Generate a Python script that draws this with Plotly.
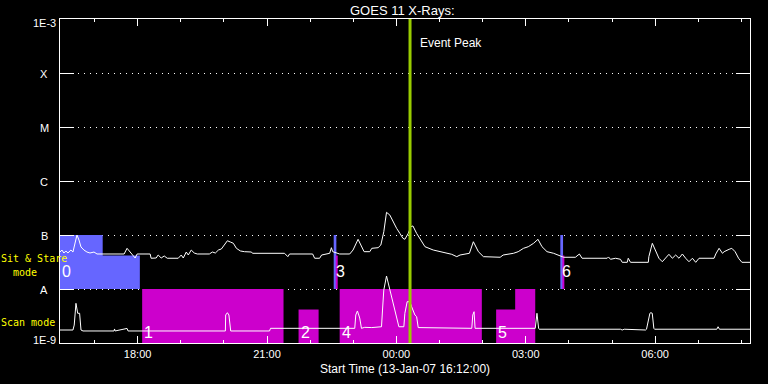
import numpy as np
import pandas as pd
import plotly.graph_objects as go

START = pd.Timestamp("2007-01-13 16:12:00")
SPAN_MIN = 960  # 16 hours

# ---- long-channel X-ray flux (W/m^2), minutes after start ----
long_t = [0, 2.7, 5.4, 8.2, 11.0, 15.2, 18.0, 20.8, 23.6, 26.4, 29.2, 33.3, 37.5, 41.7, 47.3, 51.5,
          89.2, 93.3, 97.5, 101.7, 104.5, 107.3, 125.4, 126.8, 133.8, 136.6, 140.8, 145.0, 149.2,
          164.5, 168.7, 171.5, 175.7, 178.5, 182.6, 186.8, 191.0, 207.8, 212.0, 216.2, 220.4, 224.5,
          228.7, 232.9, 237.1, 241.2, 245.4, 251.0, 256.6, 266.4, 267.8, 312.4, 317.0, 319.4, 351.5,
          354.3, 361.2, 364.0, 375.2, 377.6, 379.4, 389.1, 403.1, 407.7, 414.7, 419.1, 423.1, 431.0,
          433.8, 442.6, 446.4, 450.5, 454.3, 458.9, 463.5, 468.3, 472.9, 477.1, 479.8, 484.5, 488.2,
          491.0, 496.2, 500.8, 507.8, 519.3, 531.1, 545.0, 552.0, 556.6, 569.6, 575.1, 582.1, 589.1,
          612.4, 616.6, 630.9, 637.5, 644.9, 651.5, 658.9, 665.0, 670.6, 677.6, 686.8, 696.1, 700.7,
          717.1, 722.6, 726.4, 761.3, 763.1, 765.9, 772.9, 779.8, 782.2, 789.2, 790.6, 793.8, 818.5,
          819.3, 824.1, 828.7, 833.3, 838.0, 842.6, 847.2, 852.0, 856.6, 861.2, 865.9, 870.5, 875.1,
          879.9, 884.5, 889.1, 910.0, 912.4, 917.0, 921.7, 924.0, 930.9, 934.7, 939.3, 944.1, 948.7,
          960.0]
long_flux = [4.84e-8, 5.27e-8, 4.64e-8, 5.06e-8, 4.64e-8, 5.27e-8, 4.84e-8, 6.81e-8, 1.00e-7, 8.07e-8,
             6.00e-8, 5.27e-8, 4.84e-8, 4.64e-8, 4.84e-8, 4.45e-8,
             4.45e-8, 5.67e-8, 4.84e-8, 4.26e-8, 3.75e-8, 4.45e-8, 4.45e-8, 3.71e-8, 3.75e-8, 4.26e-8,
             3.75e-8, 4.09e-8, 3.71e-8,
             3.71e-8, 4.26e-8, 3.75e-8, 4.84e-8, 4.26e-8, 5.27e-8, 4.64e-8, 4.45e-8, 4.45e-8, 4.84e-8,
             4.64e-8, 5.27e-8, 5.51e-8,
             6.53e-8, 7.83e-8, 7.41e-8, 7.02e-8, 5.67e-8, 5.06e-8, 4.91e-8, 4.84e-8, 4.58e-8, 4.58e-8,
             3.97e-8, 4.45e-8, 4.45e-8,
             3.71e-8, 3.71e-8, 4.26e-8, 4.58e-8, 5.82e-8, 4.91e-8, 4.45e-8, 4.45e-8, 5.27e-8, 8.32e-8,
             6.53e-8, 4.91e-8, 4.91e-8,
             5.67e-8, 5.82e-8, 6.53e-8, 1.15e-7, 2.63e-7, 2.34e-7, 1.76e-7, 1.33e-7, 1.07e-7, 8.69e-8,
             8.32e-8, 1.07e-7, 1.43e-7,
             1.47e-7, 1.07e-7, 8.69e-8, 6.07e-8, 5.27e-8, 4.91e-8, 4.39e-8, 3.97e-8, 4.26e-8, 4.58e-8,
             7.51e-8, 4.91e-8, 3.97e-8,
             3.87e-8, 4.26e-8, 4.58e-8, 4.91e-8, 5.67e-8, 6.07e-8, 7.02e-8, 8.32e-8, 6.07e-8, 4.91e-8,
             4.58e-8, 4.09e-8, 3.87e-8,
             3.87e-8, 4.45e-8, 3.71e-8, 3.71e-8, 3.92e-8, 3.55e-8, 3.71e-8, 3.55e-8, 3.12e-8, 3.12e-8,
             3.71e-8, 3.12e-8, 3.12e-8,
             3.97e-8, 7.02e-8, 5.27e-8, 3.71e-8, 3.20e-8, 3.71e-8, 4.39e-8, 3.71e-8, 4.26e-8, 3.71e-8,
             4.45e-8, 3.71e-8, 3.20e-8,
             3.71e-8, 3.12e-8, 3.71e-8, 3.71e-8, 4.45e-8, 5.67e-8, 4.58e-8, 4.91e-8, 5.43e-8, 5.67e-8,
             4.91e-8, 3.71e-8, 3.12e-8,
             3.12e-8]

# ---- short-channel X-ray flux (W/m^2), minutes after start ----
short_t = [0, 18.0, 19.8, 22.2, 24.6, 27.3, 29.2, 32.0, 75.2, 75.9, 76.6, 93.3, 94.7, 230.1, 230.5,
           232.9, 235.0, 237.5, 291.5, 292.9, 410.1, 411.5, 413.8, 417.0, 419.4, 424.0, 433.8, 447.3,
           448.7, 450.5, 454.3, 457.9, 461.3, 464.5, 468.3, 471.5, 478.4, 479.8, 483.0, 486.8, 489.2,
           493.8, 496.2, 498.4, 572.9, 574.3, 576.1, 577.5, 661.2, 663.6, 665.9, 666.8, 779.8, 782.2,
           785.0, 803.1, 814.7, 816.0, 820.7, 822.1, 824.0, 826.2, 827.2, 913.8, 915.6, 917.5, 960.0]
short_flux = [1.74e-9, 1.74e-9, 2.15e-9, 5.43e-9, 3.55e-9, 3.55e-9, 1.74e-9, 1.67e-9, 1.67e-9, 1.82e-9,
              1.67e-9, 1.86e-9, 1.67e-9, 1.67e-9, 3.30e-9,
              3.64e-9, 3.30e-9, 1.67e-9, 1.67e-9, 1.87e-9, 1.87e-9, 3.30e-9, 3.92e-9, 2.90e-9, 1.87e-9,
              1.95e-9, 1.93e-9, 2.00e-9,
              4.08e-9, 9.57e-9, 1.74e-8, 1.10e-8, 7.20e-9, 4.70e-9, 3.30e-9, 2.00e-9, 2.00e-9, 3.55e-9,
              5.82e-9, 5.82e-9, 4.70e-9,
              3.30e-9, 3.07e-9, 1.93e-9, 1.87e-9, 3.30e-9, 3.80e-9, 1.87e-9, 1.87e-9, 3.55e-9, 1.87e-9,
              1.80e-9, 1.80e-9, 1.74e-9,
              1.80e-9, 1.74e-9, 1.74e-9, 1.80e-9, 3.55e-9, 3.64e-9, 3.55e-9, 1.87e-9, 1.80e-9, 1.80e-9,
              2.00e-9, 1.80e-9, 1.80e-9]

# ---- observing-mode segments (minutes after start) ----
seg_start = [0, 59.4, 114.3, 331.9, 380.8, 383.6, 389.1, 606.8, 633.3, 696.1, 698.9]
seg_end = [59.4, 111.1, 311.0, 359.8, 384.5, 386.4, 586.9, 633.3, 661.2, 699.9, 701.7]
seg_band = ["stare", "stare", "scan", "scan", "stare", "stare", "scan", "scan", "scan", "stare", "stare"]
seg_level = [1.0, 0.62, 1.0, 0.62, 1.0, 0.62, 1.0, 0.62, 1.0, 1.0, 0.62]
seg_kind = ["sit", "sit", "scan", "scan", "sit", "scan", "scan", "scan", "scan", "sit", "scan"]

block_label = ["0", "1", "2", "3", "4", "5", "6"]
block_start = [0, 114.3, 331.9, 380.8, 389.1, 606.8, 696.1]
block_band = ["stare", "scan", "scan", "stare", "scan", "scan", "stare"]

event_peak = "2007-01-14 00:19:00"

level_vals = [-9, -8, -7, -6, -5, -4, -3]
level_text = ["1E-9", "A", "B", "C", "M", "X", "1E-3"]
time_tick_text = ["18:00", "21:00", "00:00", "03:00", "06:00"]

FONT = "Liberation Sans"
MONO = "DejaVu Sans Mono"
KIND_COLOR = {"sit": "#6666ff", "scan": "#cc00cc"}
BAND_BASE = {"stare": -8.0, "scan": -9.0}


def to_time(mins):
    return START + pd.to_timedelta(np.asarray(mins, dtype=float), unit="min")


# group touching segments of the same kind/band into one stepped polygon (no seams)
groups = []
for s, e, b, lv, k in zip(seg_start, seg_end, seg_band, seg_level, seg_kind):
    if groups and groups[-1]["kind"] == k and groups[-1]["band"] == b and abs(groups[-1]["segs"][-1][1] - s) < 1e-6:
        groups[-1]["segs"].append((s, e, lv))
    else:
        groups.append(dict(kind=k, band=b, segs=[(s, e, lv)]))

fig = go.Figure()

for g in groups:
    base = BAND_BASE[g["band"]]
    xs, ys = [g["segs"][0][0]], [base]
    for s, e, lv in g["segs"]:
        xs += [s, e]
        ys += [base + lv, base + lv]
    xs += [g["segs"][-1][1], g["segs"][0][0]]
    ys += [base, base]
    col = KIND_COLOR[g["kind"]]
    fig.add_trace(go.Scatter(x=to_time(xs), y=ys, mode="lines", fill="toself",
                             fillcolor=col, line=dict(width=0, color=col),
                             hoverinfo="skip", showlegend=False))

# curves
fig.add_trace(go.Scatter(x=to_time(long_t), y=np.log10(long_flux), mode="lines",
                         line=dict(color="white", width=1), showlegend=False))
fig.add_trace(go.Scatter(x=to_time(short_t), y=np.log10(short_flux), mode="lines",
                         line=dict(color="white", width=1), showlegend=False))

# event peak line
ep = pd.Timestamp(event_peak)
fig.add_trace(go.Scatter(x=[ep, ep], y=[-9, -3], mode="lines",
                         line=dict(color="#99cc00", width=3), showlegend=False))

ann = []
# block labels
for lab, s, b in zip(block_label, block_start, block_band):
    yy = -7.67 if b == "stare" else -8.81
    ann.append(dict(x=to_time([s])[0], y=yy, xref="x", yref="y", text=lab, showarrow=False,
                    xanchor="left", yanchor="middle", font=dict(family=FONT, size=16, color="white")))

# y level labels
for v, t in zip(level_vals, level_text):
    if t.startswith("1E"):
        ys = -4 if v == -3 else 3
        ann.append(dict(x=0, y=v, xref="paper", yref="y", text=t, showarrow=False, xanchor="right",
                        yanchor="middle", xshift=-2, yshift=ys,
                        font=dict(family=FONT, size=11, color="white")))
    else:
        ann.append(dict(x=0, y=v, xref="paper", yref="y", text=t, showarrow=False, xanchor="center",
                        yanchor="middle", xshift=-16, yshift=-1,
                        font=dict(family=FONT, size=11, color="white")))

# mode captions
ann.append(dict(x=0, y=-7.44, xref="paper", yref="y", text="Sit & Stare", showarrow=False,
                xanchor="left", yanchor="middle", xshift=-61,
                font=dict(family=MONO, size=10, color="#ffff00")))
ann.append(dict(x=0, y=-7.69, xref="paper", yref="y", text="mode", showarrow=False,
                xanchor="left", yanchor="middle", xshift=-49,
                font=dict(family=MONO, size=10, color="#ffff00")))
ann.append(dict(x=0, y=-8.62, xref="paper", yref="y", text="Scan mode", showarrow=False,
                xanchor="left", yanchor="middle", xshift=-61,
                font=dict(family=MONO, size=10, color="#ffff00")))

# title, axis title, event label
ann.append(dict(x=0.4957, y=1, xref="paper", yref="paper", text="GOES 11 X-Rays:", showarrow=False,
                xanchor="center", yanchor="middle", yshift=9,
                font=dict(family=FONT, size=13, color="white")))
ann.append(dict(x=0.5, y=0, xref="paper", yref="paper", text="Start Time (13-Jan-07 16:12:00)",
                showarrow=False, xanchor="center", yanchor="middle", yshift=-26,
                font=dict(family=FONT, size=12, color="white")))
ann.append(dict(x=ep, y=1, xref="x", yref="paper", text="Event Peak", showarrow=False,
                xanchor="left", yanchor="middle", xshift=8, yshift=-24,
                font=dict(family=FONT, size=12, color="white")))

fig.update_layout(
    width=768, height=384,
    margin=dict(l=60, r=18, t=19, b=41),
    paper_bgcolor="black", plot_bgcolor="black",
    showlegend=False,
    annotations=ann,
    xaxis=dict(
        type="date",
        range=[START, START + pd.Timedelta(minutes=SPAN_MIN)],
        tickmode="array",
        tickvals=[pd.Timestamp("2007-01-13 18:00") + pd.Timedelta(hours=3 * i) for i in range(5)],
        ticktext=time_tick_text,
        ticks="inside", ticklen=7, tickcolor="white", tickwidth=1,
        minor=dict(ticks="inside", ticklen=3, tickcolor="white", tickmode="linear",
                   tick0="2007-01-13 17:00", dtick=3600000, showgrid=False),
        showline=True, linecolor="white", linewidth=1, mirror="ticks",
        showgrid=False, zeroline=False,
        tickfont=dict(family=FONT, size=11, color="white"),
        ticklabelstandoff=1,
    ),
    yaxis=dict(
        range=[-9, -3], tickmode="array", tickvals=level_vals,
        showticklabels=False,
        ticks="inside", ticklen=14, tickcolor="white", tickwidth=1,
        showline=True, linecolor="white", linewidth=1, mirror="ticks",
        showgrid=True, gridcolor="white", gridwidth=1, griddash="1px,5px",
        zeroline=False,
    ),
)

fig.write_html("out.html")
